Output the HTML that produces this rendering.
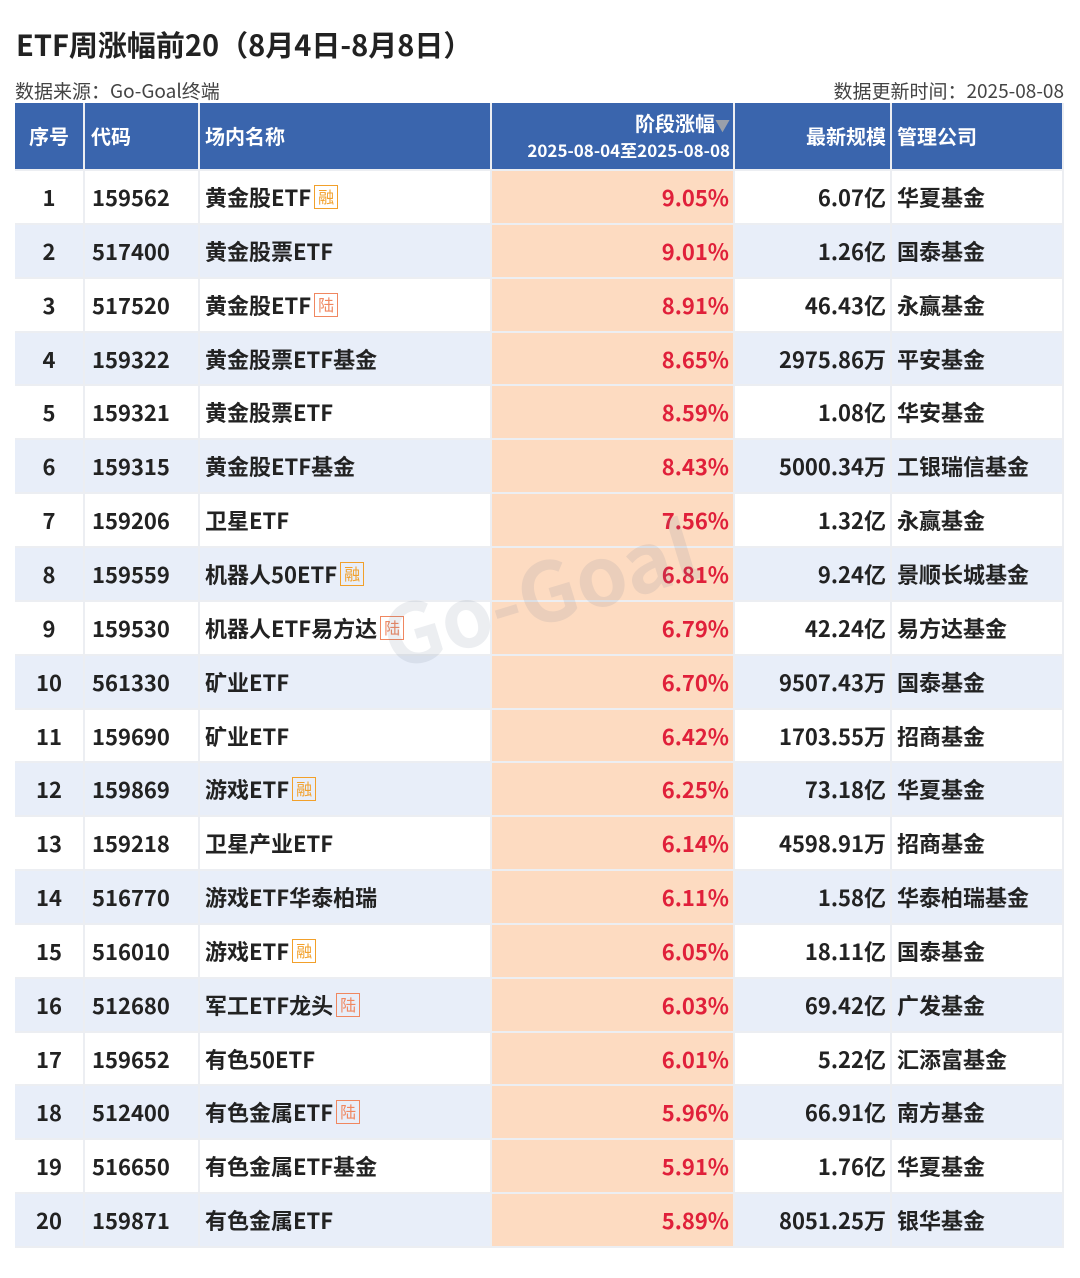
<!DOCTYPE html>
<html><head><meta charset="utf-8">
<style>
body{margin:0;width:1080px;height:1278px;background:#fff;position:relative;overflow:hidden;font-family:"Noto Sans CJK SC","Liberation Sans",sans-serif;}
#title{position:absolute;left:16px;top:24px;font-size:29px;font-weight:bold;color:#222;line-height:40px;}
.src{position:absolute;top:78px;font-size:19px;color:#444;line-height:26px;}
.cell{position:absolute;box-sizing:border-box;display:flex;align-items:center;font-weight:bold;font-size:22px;color:#222;white-space:nowrap;line-height:28px;}
.hd{color:#fff;font-size:20px;}
.badge{display:inline-block;width:24px;height:24px;box-sizing:border-box;border:1.5px solid;font-size:16px;line-height:21px;text-align:center;margin-left:3px;font-weight:normal;}
.rong{color:#f2a02a;border-color:#f2a02a;}
.lu{color:#f08760;border-color:#f08760;}
#wm{position:absolute;left:398px;top:585px;font-size:82px;font-weight:bold;color:rgba(110,120,150,0.13);transform:rotate(-17deg);transform-origin:left bottom;pointer-events:none;line-height:100px;}
</style></head><body>
<div id="title">ETF周涨幅前20（8月4日-8月8日）</div>
<div class="src" style="left:15px">数据来源：Go-Goal终端</div>
<div class="src" style="right:16px">数据更新时间：2025-08-08</div>
<div id="tbl"></div>
<div id="wm">Go-Goal</div>
<script>
const codes=["159562","517400","517520","159322","159321","159315","159206","159559","159530","561330","159690","159869","159218","516770","516010","512680","159652","512400","516650","159871"];
const names=["黄金股ETF","黄金股票ETF","黄金股ETF","黄金股票ETF基金","黄金股票ETF","黄金股ETF基金","卫星ETF","机器人50ETF","机器人ETF易方达","矿业ETF","矿业ETF","游戏ETF","卫星产业ETF","游戏ETF华泰柏瑞","游戏ETF","军工ETF龙头","有色50ETF","有色金属ETF","有色金属ETF基金","有色金属ETF"];
const badges=["融","","陆","","","","","融","陆","","","融","","","融","陆","","陆","",""];
const gains=[9.05,9.01,8.91,8.65,8.59,8.43,7.56,6.81,6.79,6.70,6.42,6.25,6.14,6.11,6.05,6.03,6.01,5.96,5.91,5.89];
const sizes=["6.07亿","1.26亿","46.43亿","2975.86万","1.08亿","5000.34万","1.32亿","9.24亿","42.24亿","9507.43万","1703.55万","73.18亿","4598.91万","1.58亿","18.11亿","69.42亿","5.22亿","66.91亿","1.76亿","8051.25万"];
const companies=["华夏基金","国泰基金","永赢基金","平安基金","华安基金","工银瑞信基金","永赢基金","景顺长城基金","易方达基金","国泰基金","招商基金","华夏基金","招商基金","华泰柏瑞基金","国泰基金","广发基金","汇添富基金","南方基金","华夏基金","银华基金"];

const cols=[15,85,200,492,735,892,1064];
const tbl=document.getElementById('tbl');
function cell(ci,y,h,bg,html,align,pad,extra){
  const d=document.createElement('div');
  d.className='cell'+(extra||'');
  d.style.left=cols[ci]+'px';d.style.top=y+'px';
  d.style.width=(cols[ci+1]-cols[ci])+'px';d.style.height=h+'px';
  d.style.background=bg;
  d.style.justifyContent=align;
  d.style.padding=pad;
  d.style.borderRight='2px solid #eceef2';
  d.style.borderBottom='2px solid #eceef2';
  d.innerHTML=html;
  tbl.appendChild(d);
  return d;
}
const H='#3a65ad';
let c;
c=cell(0,103,68,H,'序号','center','0',' hd');


c=cell(1,103,68,H,'代码','flex-start','0 0 0 6px',' hd');


c=cell(2,103,68,H,'场内名称','flex-start','0 0 0 5px',' hd');


c=cell(3,103,68,H,'<div style="text-align:right;line-height:24px"><div>阶段涨幅<span style="color:#9aa0aa;font-size:15px">▼</span></div><div style="font-size:17px">2025-08-04至2025-08-08</div></div>','flex-end','0 3px 0 0',' hd');


c=cell(4,103,68,H,'最新规模','flex-end','0 4px 0 0',' hd');


c=cell(5,103,68,H,'管理公司','flex-start','0 0 0 5px',' hd');



const top0=171,rh=53.85;
for(let i=0;i<codes.length;i++){
  const y=Math.round(top0+i*rh), h=Math.round(top0+(i+1)*rh)-y;
  const bg=i%2?'#e8eef9':'#fff';
  c=cell(0,y,h,bg,String(i+1),'center','0');
  
  
  c=cell(1,y,h,bg,codes[i],'flex-start','0 0 0 7px');
  
  
  let b='';
  if(badges[i]) b='<span class="badge '+(badges[i]==='融'?'rong':'lu')+'">'+badges[i]+'</span>';
  c=cell(2,y,h,bg,names[i]+b,'flex-start','0 0 0 5px');
  
  
  c=cell(3,y,h,'#fddbc1','<span style="color:#e0203a">'+gains[i].toFixed(2)+'%</span>','flex-end','0 4px 0 0');
  
  
  c=cell(4,y,h,bg,sizes[i],'flex-end','0 4px 0 0');
  
  
  c=cell(5,y,h,bg,companies[i],'flex-start','0 0 0 5px');
  
  
}
</script>
</body></html>
